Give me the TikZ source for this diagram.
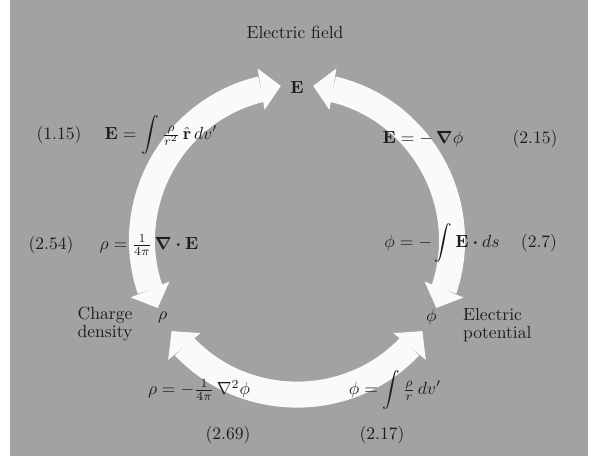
\documentclass[tikz,border=0pt]{standalone}
\usepackage{amsmath,bm}
\usetikzlibrary{arrows.meta,bending}

\definecolor{efgray}{RGB}{162,162,162}
\definecolor{efink}{RGB}{28,28,28}

\tikzset{
  eftip/.style={Triangle[width=0.84cm,length=0.4cm,line width=0pt]},
  efarc/.style={draw=white!95!efgray, line width=0.52cm, {Triangle[width=0.84cm,length=0.4cm,line width=0pt]}-{Triangle[width=0.84cm,length=0.4cm,line width=0pt]}},
  efsym/.style={text=efink, inner sep=1pt},
  eftext/.style={text=efink, inner sep=1pt, align=center}
}

\begin{document}
\begin{tikzpicture}[x=0.02cm, y=0.02cm]
\useasboundingbox (-297,-217) rectangle (300,240);
\fill[efgray] (-287,-216) rectangle (291,240);

% the three quantities
\node[efsym] (E) at (90:153) {$\mathbf{E}$};
\node[efsym] (rho) at (210:155) {$\rho$};
\node[efsym] (phi) at (330:155) {$\phi$};

\node[eftext] (fieldlbl) at (-2,208) {Electric field};
\node[eftext] (rholbl) at (-192,-84) {Charge\\[-2pt]density};
\node[eftext, anchor=west, align=left] (philbl) at (164,-85) {Electric\\[-2pt]potential};

% ends of the arcs
\coordinate (rhoL) at (206:155);
\coordinate (EL) at (96:155);
\coordinate (ER) at (84:155);
\coordinate (phiR) at (334:155);
\coordinate (phiB) at (324:155);
\coordinate (rhoB) at (216:155);

\draw[efarc] (rhoL) to[bend left=55, looseness=1.08] (EL);
\draw[efarc] (ER) to[bend left=55, looseness=1.08] (phiR);
\draw[efarc] (phiB) to[bend left=54, looseness=1.07] (rhoB);

% equations
\node[efsym] (eq115) at (-136,105) {$\mathbf{E}=\displaystyle\int\tfrac{\rho}{r^2}\,\hat{\mathbf{r}}\,dv'$};
\node[efsym] (eq215) at (126,101) {$\mathbf{E}=-\,\bm{\nabla}\phi$};
\node[efsym] (eq254) at (-148,-5) {$\rho=\tfrac{1}{4\pi}\,\bm{\nabla}\bm{\cdot}\mathbf{E}$};
\node[efsym] (eq27) at (145,-3) {$\phi=-\displaystyle\int\mathbf{E}\bm{\cdot}ds$};
\node[efsym] (eq269) at (-98,-150) {$\rho=-\tfrac{1}{4\pi}\,\nabla^2\phi$};
\node[efsym] (eq217) at (98,-150) {$\phi=\displaystyle\int\tfrac{\rho}{r}\,dv'$};

% equation numbers
\node[eftext] (n115) at (-238,105) {(1.15)};
\node[eftext] (n215) at (238,101) {(2.15)};
\node[eftext] (n254) at (-246,-5) {(2.54)};
\node[eftext] (n27) at (242,-3) {(2.7)};
\node[eftext] (n269) at (-69,-195) {(2.69)};
\node[eftext] (n217) at (85,-195) {(2.17)};
\end{tikzpicture}
\end{document}
